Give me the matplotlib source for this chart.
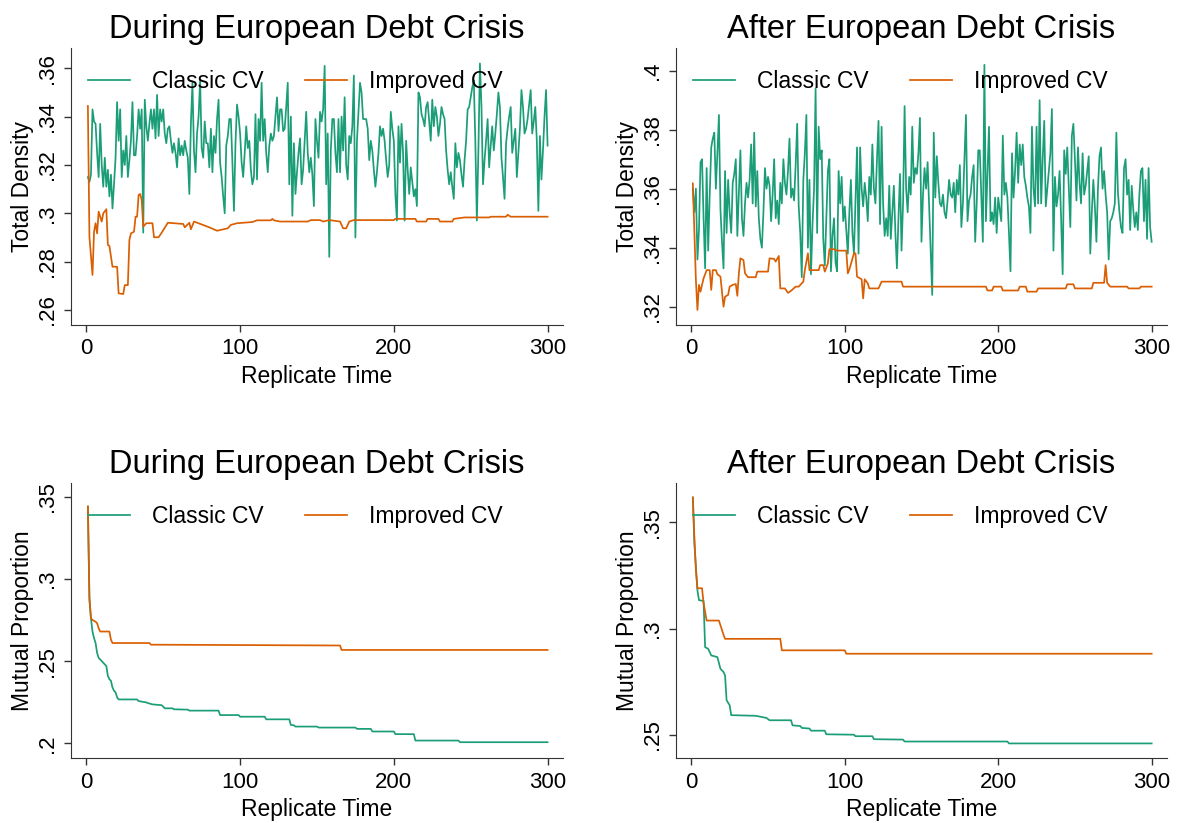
import numpy as np
import matplotlib
matplotlib.use("Agg")
import matplotlib.pyplot as plt

plt.rcParams['font.family'] = ['Liberation Sans', 'DejaVu Sans']

# Colours (Dark2):
green = "#1b9e77"
orange = "#d95f02"

# ======================================================================================================================
# Data (in thousandths):
# Top left - total density during the crisis, classic CV (replicates 1..300):
tl_classic = [
    315, 313, 316, 343, 338, 337, 325, 315, 337, 320,
    311, 323, 311, 318, 307, 316, 302, 312, 323, 346,
    330, 343, 315, 326, 320, 332, 315, 322, 330, 346,
    324, 324, 332, 343, 335, 343, 292, 347, 336, 330,
    337, 343, 335, 343, 331, 349, 332, 343, 338, 343,
    333, 329, 335, 336, 330, 325, 329, 325, 319, 331,
    324, 328, 324, 330, 326, 323, 308, 337, 354, 326,
    317, 333, 340, 355, 327, 323, 338, 329, 329, 319,
    335, 317, 332, 325, 339, 347, 321, 315, 307, 300,
    328, 332, 339, 339, 321, 301, 329, 345, 340, 333,
    321, 315, 325, 336, 327, 330, 318, 312, 315, 341,
    314, 339, 330, 354, 330, 339, 325, 317, 328, 333,
    330, 332, 340, 348, 334, 343, 343, 334, 335, 344,
    354, 312, 340, 299, 329, 308, 317, 325, 331, 312,
    318, 330, 342, 325, 317, 323, 316, 303, 339, 330,
    323, 342, 338, 343, 361, 312, 333, 282, 326, 339,
    339, 325, 317, 339, 317, 340, 326, 348, 320, 314,
    332, 329, 336, 357, 290, 330, 342, 354, 350, 339,
    339, 339, 335, 322, 330, 326, 318, 311, 317, 325,
    336, 332, 335, 330, 322, 315, 320, 342, 335, 330,
    308, 297, 336, 321, 337, 325, 297, 330, 318, 308,
    319, 313, 307, 310, 303, 350, 348, 341, 339, 336,
    344, 346, 338, 330, 347, 336, 344, 340, 332, 337,
    344, 341, 339, 326, 318, 312, 317, 311, 306, 329,
    319, 325, 322, 316, 311, 322, 330, 343, 344, 348,
    352, 355, 330, 297, 326, 362, 344, 312, 322, 330,
    339, 319, 328, 336, 326, 333, 341, 350, 344, 323,
    315, 306, 329, 335, 340, 344, 325, 330, 335, 315,
    325, 335, 351, 344, 333, 335, 339, 345, 351, 333,
    338, 344, 330, 301, 332, 314, 326, 340, 351, 328,
]
# Top left - improved CV (change points):
tl_improved_t = [1, 2, 4, 5, 6, 7, 8, 10, 11, 13, 14, 15, 17, 20, 21, 24, 25, 27, 28, 29, 31, 32, 33, 34, 35, 36, 37,
                 39, 43, 44, 47, 49, 53, 63, 64, 67, 68, 70, 80, 85, 92, 94, 98, 108, 111, 120, 121, 122, 126, 144,
                 146, 152, 154, 158, 165, 167, 169, 171, 174, 200, 201, 214, 215, 221, 222, 229, 230, 238, 239, 246,
                 262, 263, 273, 274, 276, 300]
tl_improved_v = [344.4, 290.3, 274.5, 292.4, 295.9, 291.7, 300.7, 296.6, 300.0, 301.7, 286.9, 286.5, 277.9, 277.9,
                 266.9, 266.6, 270.3, 270.3, 289.0, 291.7, 292.4, 298.6, 298.6, 307.6, 308.0, 305.5, 294.5, 295.9,
                 295.9, 290.1, 290.1, 292.0, 296.1, 295.6, 294.2, 296.1, 293.4, 296.6, 294.2, 292.8, 293.8, 295.2,
                 295.9, 296.4, 297.1, 297.1, 297.7, 297.1, 296.6, 296.6, 297.2, 297.2, 296.6, 297.2, 296.6, 293.8,
                 293.8, 296.6, 297.2, 297.2, 297.7, 297.7, 296.6, 296.6, 297.7, 297.7, 296.6, 296.6, 297.7, 298.3,
                 298.3, 298.6, 298.6, 299.4, 298.6, 298.6]

# Top right - total density after the crisis, classic CV:
tr_classic = [
    360, 352, 360, 336, 346, 369, 370, 350, 333, 367,
    339, 358, 374, 377, 379, 360, 372, 385, 353, 342,
    333, 366, 345, 363, 352, 345, 362, 365, 370, 344,
    358, 373, 350, 344, 355, 362, 357, 363, 375, 355,
    379, 354, 366, 350, 343, 340, 352, 367, 360, 364,
    361, 349, 358, 370, 350, 356, 348, 362, 355, 370,
    362, 358, 366, 377, 357, 360, 356, 368, 382, 354,
    345, 330, 363, 372, 385, 340, 363, 331, 348, 360,
    394, 345, 381, 370, 373, 343, 334, 350, 366, 370,
    332, 344, 350, 335, 332, 366, 355, 364, 349, 354,
    346, 338, 352, 363, 345, 338, 356, 374, 338, 374,
    360, 354, 362, 357, 349, 364, 358, 375, 360, 355,
    370, 383, 348, 381, 355, 344, 350, 344, 361, 343,
    352, 361, 345, 333, 350, 365, 339, 355, 388, 360,
    352, 364, 358, 381, 362, 367, 365, 372, 384, 342,
    358, 367, 360, 369, 354, 340, 324, 379, 357, 371,
    362, 355, 354, 358, 352, 350, 356, 363, 358, 357,
    362, 352, 363, 358, 368, 347, 355, 370, 385, 349,
    356, 358, 364, 368, 342, 355, 373, 373, 358, 342,
    402, 349, 365, 381, 349, 352, 348, 357, 345, 357,
    353, 349, 378, 358, 362, 357, 345, 332, 372, 357,
    366, 379, 362, 375, 368, 375, 364, 361, 357, 354,
    345, 381, 360, 354, 381, 355, 390, 355, 370, 383,
    354, 360, 366, 372, 387, 339, 364, 354, 358, 366,
    350, 331, 373, 365, 374, 360, 347, 378, 382, 370,
    356, 374, 362, 355, 372, 358, 361, 366, 371, 338,
    352, 363, 354, 342, 360, 371, 374, 360, 366, 358,
    352, 336, 349, 350, 352, 355, 379, 359, 352, 347,
    345, 367, 370, 358, 363, 346, 361, 353, 347, 352,
    346, 358, 366, 367, 349, 363, 343, 367, 347, 342,
]
# Top right - improved CV (change points):
tr_improved_t = [1, 3, 4, 5, 6, 7, 8, 10, 12, 13, 14, 16, 17, 19, 21, 22, 24, 25, 27, 29, 30, 31, 32, 34, 35, 37,
                 42, 43, 50, 51, 54, 55, 57, 58, 61, 63, 65, 68, 70, 73, 74, 76, 77, 83, 84, 86, 87, 89, 90, 93, 95,
                 101, 102, 103, 106, 107, 108, 111, 112, 113, 115, 116, 122, 124, 137, 138, 192, 193, 196, 197, 202,
                 203, 213, 214, 218, 219, 225, 226, 244, 245, 249, 250, 261, 262, 269, 270, 271, 273, 284, 285, 292,
                 293, 300]
tr_improved_v = [361.8, 329.0, 318.9, 327.4, 325.1, 327.4, 329.6, 332.4, 332.4, 325.7, 332.4, 332.4, 331.0, 330.2,
                 320.0, 323.4, 324.0, 326.8, 327.4, 327.7, 323.7, 331.3, 336.4, 335.8, 331.3, 330.0, 330.0, 331.9,
                 331.9, 336.4, 336.2, 335.3, 337.2, 326.2, 326.2, 324.7, 325.4, 326.8, 326.8, 328.5, 332.4, 338.1,
                 332.4, 332.4, 334.1, 334.1, 331.9, 334.7, 339.5, 339.5, 339.0, 339.0, 331.3, 332.6, 338.1, 338.1,
                 330.2, 329.3, 322.8, 329.3, 327.9, 326.2, 326.2, 328.5, 328.5, 326.8, 326.8, 325.5, 325.5, 326.8,
                 326.8, 325.5, 325.5, 326.8, 326.8, 325.1, 325.1, 326.2, 326.2, 327.6, 327.6, 326.2, 326.2, 328.1,
                 328.1, 334.1, 328.1, 326.8, 326.8, 326.2, 326.2, 326.8, 326.8]

# Bottom left - mutual proportion during the crisis (change points):
bl_classic_t = [1, 2, 3, 4, 5, 6, 7, 8, 9, 11, 12, 13, 14, 15, 16, 17, 18, 19, 20, 21, 33, 34, 39, 40, 43, 49, 50,
                51, 56, 57, 66, 67, 86, 87, 99, 100, 116, 117, 132, 133, 135, 136, 150, 151, 175, 176, 185, 186, 200,
                201, 213, 214, 242, 243, 300]
bl_classic_v = [344, 287, 276, 268, 264, 261, 255, 252, 251, 249, 248, 247, 241, 239, 238, 234, 232, 231, 228, 226.7,
                226.7, 225.7, 224.9, 224.5, 223.7, 223.2, 222.3, 221.3, 221.3, 220.7, 220.5, 219.9, 219.9, 217.2,
                217.2, 216.2, 216.2, 214.6, 214.6, 211.2, 211.0, 210.2, 210.2, 209.6, 209.6, 208.8, 208.8, 207.2,
                207.2, 205.6, 205.6, 201.7, 201.7, 200.7, 200.7]
bl_improved_t = [1, 2, 3, 4, 6, 7, 8, 9, 15, 16, 17, 41, 42, 165, 166, 300]
bl_improved_v = [344, 289, 276, 275, 274, 273, 270, 268, 268, 263, 261, 261, 260, 259.5, 256.8, 256.8]

# Bottom right - mutual proportion after the crisis (change points):
br_classic_t = [1, 2, 3, 4, 5, 8, 9, 11, 13, 17, 19, 21, 22, 23, 25, 26, 42, 49, 51, 65, 66, 71, 72, 77, 78, 87, 88,
                106, 107, 118, 119, 138, 139, 206, 207, 300]
br_classic_v = [361.7, 340, 329, 318, 313.4, 313, 291.3, 290.5, 287.4, 286.6, 281.1, 279.6, 278, 266.3, 264, 259.3,
                259, 258, 256.9, 256.9, 254.5, 254.2, 253.3, 253, 252, 252, 250.3, 250.1, 249.4, 249.4, 248, 247.8,
                246.9, 246.9, 246, 246]
br_improved_t = [1, 2, 3, 4, 7, 8, 10, 18, 21, 22, 58, 59, 100, 101, 300]
br_improved_v = [361.7, 343.2, 327.6, 319, 319, 312, 303.8, 303.8, 297.1, 295.2, 295.2, 289.8, 289.8, 288.2, 288.2]

# Axis settings:
panel_titles = ["During European Debt Crisis", "After European Debt Crisis",
                "During European Debt Crisis", "After European Debt Crisis"]
panel_ylabels = ["Total Density", "Total Density", "Mutual Proportion", "Mutual Proportion"]
panel_yticks = [[0.26, 0.28, 0.30, 0.32, 0.34, 0.36], [0.32, 0.34, 0.36, 0.38, 0.40],
                [0.20, 0.25, 0.30, 0.35], [0.25, 0.30, 0.35]]
panel_ylims = [(0.2538, 0.3684), (0.3138, 0.4077), (0.1909, 0.3583), (0.2390, 0.3685)]
xticks = [0, 100, 200, 300]


def stata_label(v):
    # Stata style tick labels: ".36", ".3"
    return "{:g}".format(round(v, 3)).lstrip("0")


def draw_panel(ax, classic_t, classic_v, improved_t, improved_v, i):
    ax.plot(classic_t, np.array(classic_v) / 1000, color=green, lw=1.25, label="Classic CV")
    ax.plot(improved_t, np.array(improved_v) / 1000, color=orange, lw=1.25, label="Improved CV")
    ax.set_xlim(-10, 310)
    ax.set_ylim(panel_ylims[i])
    ax.set_xticks(xticks)
    ax.set_yticks(panel_yticks[i])
    ax.set_yticklabels([stata_label(v) for v in panel_yticks[i]], rotation=90, va="center")
    ax.tick_params(labelsize=16, length=5, width=1, color="#333333", pad=4.5)
    ax.spines[['right', 'top']].set_visible(False)
    ax.spines[['left', 'bottom']].set_color("#333333")
    ax.set_title(panel_titles[i], fontsize=23.5, pad=7)
    ax.set_xlabel("Replicate Time", fontsize=16.5, labelpad=4)
    ax.set_ylabel(panel_ylabels[i], fontsize=16.5, labelpad=2)
    ax.legend(ncol=2, loc="center left", bbox_to_anchor=(0.034, 0.879), frameon=False, fontsize=16.5,
              handlelength=1.85, handletextpad=0.95, columnspacing=1.8, borderpad=0, borderaxespad=0)


fig = plt.figure(figsize=(11.77, 8.23), dpi=100)
ax_tl = fig.add_axes([0.0603, 0.6051, 0.418, 0.3366])
ax_tr = fig.add_axes([0.5743, 0.6051, 0.4172, 0.3366])
ax_bl = fig.add_axes([0.0603, 0.0786, 0.418, 0.3345])
ax_br = fig.add_axes([0.5743, 0.0786, 0.4172, 0.3345])

draw_panel(ax_tl, np.arange(1, len(tl_classic) + 1), tl_classic, tl_improved_t, tl_improved_v, 0)
draw_panel(ax_tr, np.arange(1, len(tr_classic) + 1), tr_classic, tr_improved_t, tr_improved_v, 1)
draw_panel(ax_bl, bl_classic_t, bl_classic_v, bl_improved_t, bl_improved_v, 2)
draw_panel(ax_br, br_classic_t, br_classic_v, br_improved_t, br_improved_v, 3)

fig.savefig("out.png", dpi=100)
plt.close()
